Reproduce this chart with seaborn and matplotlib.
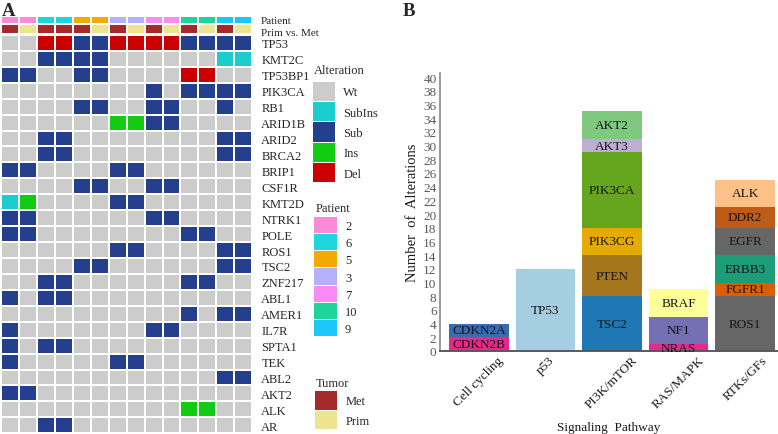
import numpy as np
import pandas as pd
import matplotlib
matplotlib.use("Agg")
import matplotlib.pyplot as plt
import seaborn as sns
from matplotlib.colors import ListedColormap

# ---------------- Panel A data ----------------
genes = ["TP53", "KMT2C", "TP53BP1", "PIK3CA", "RB1", "ARID1B", "ARID2", "BRCA2",
         "BRIP1", "CSF1R", "KMT2D", "NTRK1", "POLE", "ROS1", "TSC2", "ZNF217",
         "ABL1", "AMER1", "IL7R", "SPTA1", "TEK", "ABL2", "AKT2", "ALK", "AR"]
alteration_types = ["Wt", "SubIns", "Sub", "Ins", "Del"]
alteration_colors = ["#CCCCCC", "#1CCDD0", "#233F8E", "#12CC12", "#CC0000"]
# 0 Wt, 1 SubIns, 2 Sub, 3 Ins, 4 Del ; 14 samples
alteration_matrix = [
    [0, 0, 4, 4, 2, 2, 4, 4, 4, 4, 2, 2, 2, 2],  # TP53
    [0, 0, 2, 2, 2, 2, 0, 0, 0, 0, 0, 0, 1, 1],  # KMT2C
    [2, 2, 0, 0, 2, 2, 0, 0, 0, 0, 4, 4, 0, 0],  # TP53BP1
    [0, 0, 0, 0, 0, 0, 0, 0, 2, 0, 2, 2, 2, 2],  # PIK3CA
    [0, 0, 0, 0, 2, 2, 0, 0, 2, 2, 0, 0, 2, 0],  # RB1
    [0, 0, 0, 0, 0, 0, 3, 3, 2, 2, 0, 0, 0, 0],  # ARID1B
    [0, 0, 2, 2, 0, 0, 0, 0, 0, 0, 0, 0, 2, 2],  # ARID2
    [0, 0, 2, 2, 0, 0, 0, 0, 0, 0, 0, 0, 2, 2],  # BRCA2
    [2, 2, 0, 0, 0, 0, 2, 2, 0, 0, 0, 0, 0, 0],  # BRIP1
    [0, 0, 0, 0, 2, 2, 0, 0, 2, 2, 0, 0, 0, 0],  # CSF1R
    [1, 3, 0, 0, 0, 0, 2, 2, 0, 0, 0, 0, 0, 0],  # KMT2D
    [2, 2, 0, 0, 0, 0, 0, 0, 2, 2, 0, 0, 0, 0],  # NTRK1
    [2, 2, 0, 0, 0, 0, 0, 0, 0, 0, 2, 2, 0, 0],  # POLE
    [0, 0, 0, 0, 0, 0, 2, 2, 0, 0, 0, 0, 2, 2],  # ROS1
    [0, 0, 0, 0, 2, 2, 0, 0, 0, 0, 0, 0, 2, 2],  # TSC2
    [0, 0, 2, 2, 0, 0, 0, 0, 0, 0, 2, 2, 0, 0],  # ZNF217
    [2, 0, 2, 2, 0, 0, 0, 0, 0, 0, 0, 0, 0, 0],  # ABL1
    [0, 0, 0, 0, 0, 0, 0, 0, 0, 0, 2, 0, 2, 2],  # AMER1
    [2, 0, 0, 0, 0, 0, 0, 0, 2, 2, 0, 0, 0, 0],  # IL7R
    [2, 0, 2, 2, 0, 0, 0, 0, 0, 0, 0, 0, 0, 0],  # SPTA1
    [2, 0, 0, 0, 0, 0, 2, 2, 0, 0, 0, 0, 0, 0],  # TEK
    [0, 0, 0, 0, 0, 0, 0, 0, 0, 0, 0, 0, 2, 2],  # ABL2
    [2, 2, 0, 0, 0, 0, 0, 0, 0, 0, 0, 0, 0, 0],  # AKT2
    [0, 0, 0, 0, 0, 0, 0, 0, 0, 0, 3, 3, 0, 0],  # ALK
    [0, 0, 2, 2, 0, 0, 0, 0, 0, 0, 0, 0, 0, 0],  # AR
]
patient_ids = ["2", "6", "5", "3", "7", "10", "9"]
patient_colors = ["#F98AD6", "#1DD6DB", "#F4A900", "#B4B0FA", "#F98CF4", "#1FD39B", "#1DC6F9"]
sample_patient = ["2", "2", "6", "6", "5", "5", "3", "3", "7", "7", "10", "10", "9", "9"]
tumor_types = ["Met", "Prim"]
tumor_colors = ["#A52A2A", "#EEE48F"]
sample_tumor = ["Met", "Prim", "Met", "Met", "Met", "Prim", "Met", "Prim",
                "Met", "Prim", "Met", "Prim", "Met", "Prim"]
header_labels = ["Patient", "Prim vs. Met"]

# ---------------- Panel B data ----------------
pathways = ["Cell cycling", "p53", "PI3K/mTOR", "RAS/MAPK", "RTKs/GFs"]
seg_pathway = ["Cell cycling", "Cell cycling", "p53",
               "PI3K/mTOR", "PI3K/mTOR", "PI3K/mTOR", "PI3K/mTOR", "PI3K/mTOR", "PI3K/mTOR",
               "RAS/MAPK", "RAS/MAPK", "RAS/MAPK",
               "RTKs/GFs", "RTKs/GFs", "RTKs/GFs", "RTKs/GFs", "RTKs/GFs", "RTKs/GFs"]
seg_gene = ["CDKN2B", "CDKN2A", "TP53",
            "TSC2", "PTEN", "PIK3CG", "PIK3CA", "AKT3", "AKT2",
            "NRAS", "NF1", "BRAF",
            "ROS1", "FGFR1", "ERBB3", "EGFR", "DDR2", "ALK"]
seg_count = [2, 2, 12,
             8, 6, 4, 11, 2, 4,
             1, 4, 4,
             8, 2, 4, 4, 3, 4]
seg_color = ["#E7298A", "#386CB0", "#A6CEE3",
             "#1F78B4", "#A6761D", "#E6AB02", "#66A61E", "#BEAED4", "#7FC97F",
             "#E7298A", "#7570B3", "#FFFF99",
             "#666666", "#D95F02", "#1B9E77", "#666666", "#BF5B17", "#FDC086"]

# ---------------- figure ----------------
sns.set_style("white")
plt.rcParams["font.family"] = ["Liberation Serif", "DejaVu Serif"]

W, H = 778, 435
fig = plt.figure(figsize=(W / 100, H / 100), dpi=100)


def px_axes(x0, y0, x1, y1):
    return fig.add_axes([x0 / W, 1 - y1 / H, (x1 - x0) / W, (y1 - y0) / H])


GENE_FS = 9
LEG_FS = 9

# main oncoprint
ax_main = px_axes(0.9, 35.9, 252.3, 434.3)
alt_df = pd.DataFrame(alteration_matrix, index=genes)
sns.heatmap(alt_df, ax=ax_main, cmap=ListedColormap(alteration_colors), vmin=-0.5, vmax=4.5,
            linewidths=1.2, linecolor="white", cbar=False,
            xticklabels=False, yticklabels=genes)
ax_main.yaxis.tick_right()
ax_main.tick_params(axis="y", length=0, pad=6.5, labelsize=GENE_FS)
for t in ax_main.get_yticklabels():
    t.set_rotation(0)
ax_main.set_xlabel("")
ax_main.set_ylabel("")

# patient annotation bar
ax_pat = px_axes(0.9, 16.6, 252.3, 24.6)
pat_df = pd.DataFrame([[patient_ids.index(p) for p in sample_patient]])
sns.heatmap(pat_df, ax=ax_pat, cmap=ListedColormap(patient_colors), vmin=-0.5, vmax=6.5,
            linewidths=1.2, linecolor="white", cbar=False,
            xticklabels=False, yticklabels=False)

# tumor annotation bar
ax_tum = px_axes(0.9, 25.3, 252.3, 34.9)
tum_df = pd.DataFrame([[tumor_types.index(t) for t in sample_tumor]])
sns.heatmap(tum_df, ax=ax_tum, cmap=ListedColormap(tumor_colors), vmin=-0.5, vmax=1.5,
            linewidths=1.2, linecolor="white", cbar=False,
            xticklabels=False, yticklabels=False)

fig.text(261 / W, 1 - 24.2 / H, header_labels[0], fontsize=8, ha="left", va="baseline")
fig.text(261 / W, 1 - 36.0 / H, header_labels[1], fontsize=8, ha="left", va="baseline")


def legend_block(rect, labels, colors, title, title_y):
    ax = px_axes(*rect)
    n = len(labels)
    sns.heatmap(pd.DataFrame(np.arange(n).reshape(-1, 1), index=labels), ax=ax,
                cmap=ListedColormap(colors), vmin=-0.5, vmax=n - 0.5,
                linewidths=0.4, linecolor="white", cbar=False,
                xticklabels=False, yticklabels=labels)
    ax.yaxis.tick_right()
    ax.tick_params(axis="y", length=0, pad=6, labelsize=LEG_FS)
    for t in ax.get_yticklabels():
        t.set_rotation(0)
    fig.text(rect[0] / W + 2 / W, 1 - title_y / H, title, fontsize=LEG_FS,
             ha="left", va="center")
    return ax


legend_block((311.7, 81.7, 335.0, 183.3), alteration_types, alteration_colors, "Alteration", 71)
legend_block((313.3, 217.0, 336.7, 337.0), patient_ids, patient_colors, "Patient", 209)
legend_block((314.0, 391.0, 337.0, 430.0), tumor_types, tumor_colors, "Tumor", 384)

fig.text(2 / W, 1 - 16 / H, "A", fontsize=13.5, fontweight="bold", ha="left", va="baseline")
fig.text(403 / W, 1 - 16 / H, "B", fontsize=13.5, fontweight="bold", ha="left", va="baseline")

# ---------------- Panel B ----------------
axb = px_axes(440, 73.9, 778, 352)
seg_df = pd.DataFrame({"pathway": seg_pathway, "gene": seg_gene, "count": seg_count})
seg_df["top"] = seg_df.groupby("pathway")["count"].cumsum()
seg_df["bottom"] = seg_df["top"] - seg_df["count"]
seg_df["level"] = seg_df.groupby("pathway").cumcount(ascending=False)
seg_df["key"] = seg_df["pathway"] + ":" + seg_df["gene"]
key_palette = dict(zip(seg_df["key"], seg_color))

# stacked bars: draw cumulative heights from the top segment downwards
for lvl in sorted(seg_df["level"].unique()):
    sub = seg_df[seg_df["level"] == lvl]
    sns.barplot(data=sub, x="pathway", y="top", hue="key", order=pathways,
                hue_order=list(sub["key"]), palette=key_palette, dodge=False,
                width=0.9, saturation=1, legend=False, errorbar=None, ax=axb,
                linewidth=0)

for _, r in seg_df.iterrows():
    axb.text(pathways.index(r["pathway"]), r["bottom"] + r["count"] / 2, r["gene"],
             ha="center", va="center", fontsize=9.5, color="#151515")

axb.set_xlim(-0.585, 4.495)
axb.set_ylim(0, 40.6)
axb.set_yticks(np.arange(0, 41, 2))
axb.tick_params(axis="y", length=0, pad=2.5, labelsize=9.5, labelcolor="#595959")
axb.tick_params(axis="x", length=0, pad=2, labelsize=9.5, labelcolor="#1a1a1a")
for t in axb.get_xticklabels():
    t.set_rotation(45)
    t.set_ha("center")
    t.set_va("top")
for s in ["top", "right"]:
    axb.spines[s].set_visible(False)
axb.spines["left"].set_color("#7f7f7f")
axb.spines["left"].set_linewidth(1.1)
axb.spines["bottom"].set_color("#595959")
axb.spines["bottom"].set_linewidth(1.4)
axb.set_xlabel("Signaling  Pathway", fontsize=9.5, color="#1a1a1a")
axb.set_ylabel("Number  of  Alterations", fontsize=10.5, color="#1a1a1a")
axb.xaxis.set_label_coords(0.5, -0.251)
axb.yaxis.set_label_coords(-0.062, 0.5)
axb.yaxis.label.set_va("bottom")
axb.xaxis.label.set_va("top")

fig.savefig("out.png", dpi=100)
